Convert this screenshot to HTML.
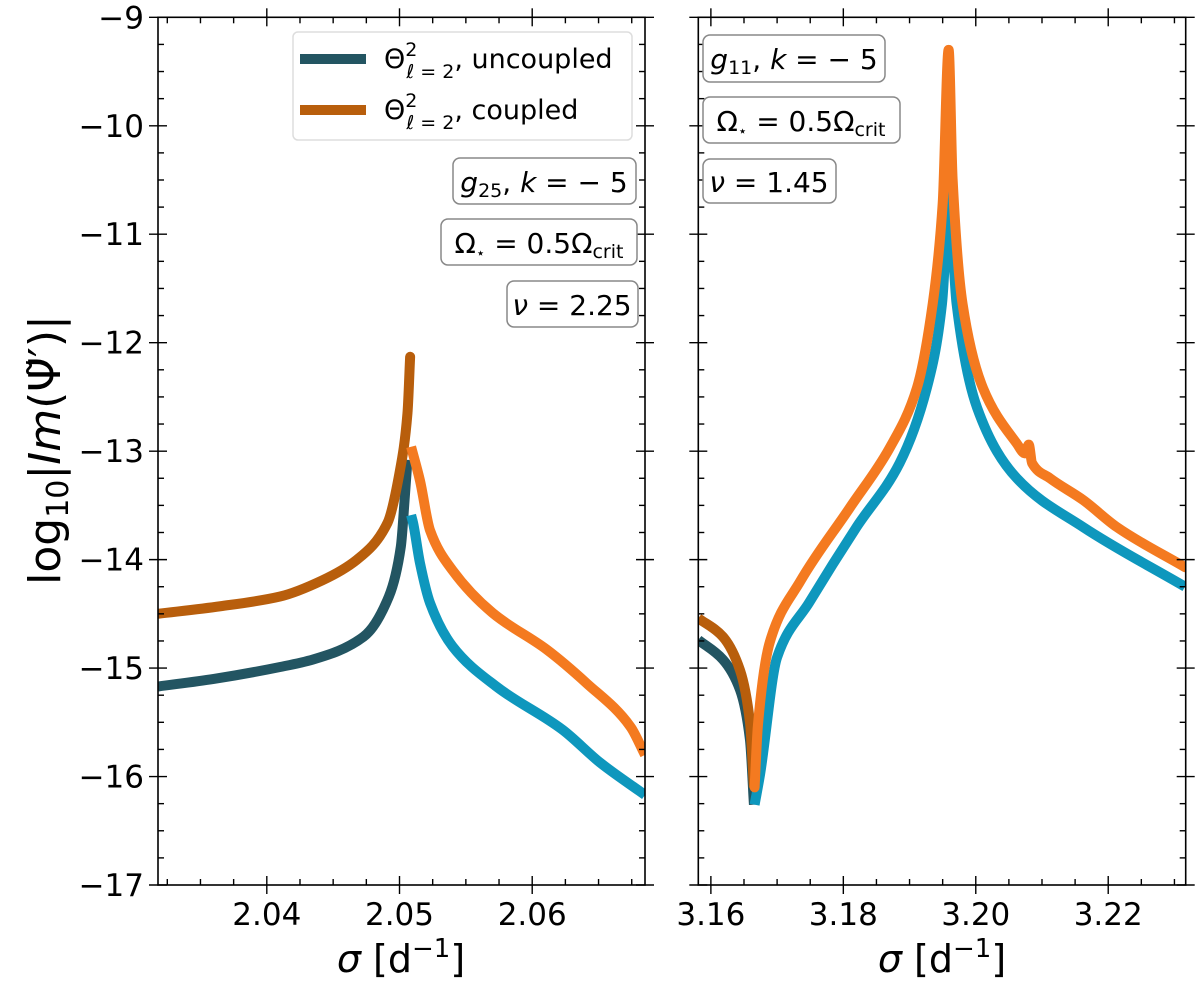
<!DOCTYPE html>
<html><head><meta charset="utf-8">
<style>
html,body{margin:0;padding:0;background:#fff;}
svg{display:block;font-family:"DejaVu Sans","Liberation Sans",sans-serif;}
</style></head>
<body>
<svg id="fig" width="1200" height="986" viewBox="0 0 1200 986" xmlns="http://www.w3.org/2000/svg">
<g id="plots"></g>
<text transform="translate(60,450) rotate(-90)" text-anchor="middle" font-size="44">log<tspan font-size="30" dy="8">10</tspan><tspan dy="-8">|</tspan><tspan font-style="italic">Im</tspan>(Ψ̃′)|</text>
<text x="401" y="972" text-anchor="middle" font-size="38"><tspan font-style="italic">σ</tspan> [d<tspan font-size="26" dy="-15">−1</tspan><tspan dy="15">]</tspan></text>
<text x="942" y="972" text-anchor="middle" font-size="38"><tspan font-style="italic">σ</tspan> [d<tspan font-size="26" dy="-15">−1</tspan><tspan dy="15">]</tspan></text>

<g>
<rect x="293" y="32" width="339" height="108" rx="5" fill="#fff" stroke="#ddd" stroke-width="1.5"/>
<line x1="300" y1="59" x2="366" y2="59" stroke="#235562" stroke-width="10"/>
<line x1="300" y1="110" x2="366" y2="110" stroke="#b85e0c" stroke-width="10"/>
<text x="384" y="68" font-size="27">Θ<tspan font-size="19" dy="-12">2</tspan><tspan font-size="19" dx="-11" dy="22" font-style="italic">ℓ</tspan><tspan font-size="19" dy="0"> = 2</tspan><tspan dy="-10">, uncoupled</tspan></text>
<text x="384" y="119" font-size="27">Θ<tspan font-size="19" dy="-12">2</tspan><tspan font-size="19" dx="-11" dy="22" font-style="italic">ℓ</tspan><tspan font-size="19" dy="0"> = 2</tspan><tspan dy="-10">, coupled</tspan></text>
</g>

<g font-size="28">
<rect x="453" y="158" width="183" height="46" rx="7" fill="#fff" stroke="#888" stroke-width="1.5"/>
<text x="544" y="192" text-anchor="middle"><tspan font-style="italic">g</tspan><tspan font-size="19" dy="5">25</tspan><tspan dy="-5">, </tspan><tspan font-style="italic">k</tspan> = − 5</text>
<rect x="441" y="219" width="196" height="46" rx="7" fill="#fff" stroke="#888" stroke-width="1.5"/>
<text x="539" y="253" text-anchor="middle">Ω<tspan font-size="15" dy="5">⋆</tspan><tspan dy="-5"> = 0.5Ω</tspan><tspan font-size="19" dy="5">crit</tspan></text>
<rect x="507" y="281" width="131" height="46" rx="7" fill="#fff" stroke="#888" stroke-width="1.5"/>
<text x="572" y="315" text-anchor="middle"><tspan font-style="italic">ν</tspan> = 2.25</text>
</g>
<g font-size="28">
<rect x="703" y="35" width="182" height="47" rx="7" fill="#fff" stroke="#888" stroke-width="1.5"/>
<text x="794" y="69" text-anchor="middle"><tspan font-style="italic">g</tspan><tspan font-size="19" dy="5">11</tspan><tspan dy="-5">, </tspan><tspan font-style="italic">k</tspan> = − 5</text>
<rect x="703" y="97" width="197" height="46" rx="7" fill="#fff" stroke="#888" stroke-width="1.5"/>
<text x="801" y="131" text-anchor="middle">Ω<tspan font-size="15" dy="5">⋆</tspan><tspan dy="-5"> = 0.5Ω</tspan><tspan font-size="19" dy="5">crit</tspan></text>
<rect x="703" y="159" width="133" height="44" rx="7" fill="#fff" stroke="#888" stroke-width="1.5"/>
<text x="769" y="192" text-anchor="middle"><tspan font-style="italic">ν</tspan> = 1.45</text>
</g>
</svg>
<script>
// ---- data ----
const yTicks = [-9,-10,-11,-12,-13,-14,-15,-16,-17];
const yTickLabels = ["−9","−10","−11","−12","−13","−14","−15","−16","−17"];
const leftXTicks = [2.04,2.05,2.06];
const leftXTickLabels = ["2.04","2.05","2.06"];
const rightXTicks = [3.16,3.18,3.20,3.22];
const rightXTickLabels = ["3.16","3.18","3.20","3.22"];

// left panel (g25)
const L_uncLeftSigma = [2.0318,2.0360,2.0410,2.0435,2.0473,2.0492,2.0501,2.0504,2.0506];
const L_uncLeftVal   = [-15.17,-15.10,-14.99,-14.92,-14.71,-14.34,-13.88,-13.42,-13.08];
const L_uncRightSigma = [2.05087,2.05102,2.05154,2.0523,2.0540,2.0573,2.0623,2.0651,2.0685];
const L_uncRightVal   = [-13.59,-13.66,-14.03,-14.40,-14.80,-15.17,-15.57,-15.87,-16.17];
const L_cplLeftSigma = [2.0318,2.0365,2.0410,2.0442,2.0468,2.0491,2.0500,2.0506,2.0508];
const L_cplLeftVal   = [-14.50,-14.43,-14.34,-14.19,-14.00,-13.66,-13.20,-12.65,-12.13];
const L_cplRightSigma = [2.05087,2.05154,2.0523,2.0540,2.0570,2.0611,2.0641,2.0674,2.0685];
const L_cplRightVal   = [-12.96,-13.27,-13.73,-14.10,-14.49,-14.83,-15.14,-15.54,-15.80];

// right panel (g11)
const R_uncLeftSigma = [3.1581,3.1618,3.1644,3.1659,3.1665];
const R_uncLeftVal   = [-14.74,-14.92,-15.20,-15.66,-16.26];
const R_uncRightSigma = [3.1666,3.1674,3.1700,3.1749,3.1820,3.1885,3.1926,3.1949,3.1958,3.1959,3.1961,3.1971,3.2002,3.2062,3.2162,3.2316];
const R_uncRightVal   = [-16.26,-15.99,-14.90,-14.39,-13.70,-13.11,-12.42,-11.64,-10.72,-10.63,-10.72,-11.64,-12.60,-13.25,-13.70,-14.25];
const R_cplLeftSigma = [3.1581,3.1618,3.1644,3.1659,3.1665];
const R_cplLeftVal   = [-14.54,-14.71,-15.02,-15.50,-16.10];
const R_cplRightSigma = [3.1666,3.1671,3.1689,3.1735,3.1810,3.1870,3.1911,3.1935,3.1950,3.1959,3.1965,3.1980,3.2011,3.2062,3.2074,3.2080,3.2085,3.2112,3.2162,3.2213,3.2316];
const R_cplRightVal   = [-16.10,-15.53,-14.76,-14.20,-13.52,-12.97,-12.42,-11.64,-10.72,-9.30,-10.49,-11.64,-12.42,-12.93,-13.02,-12.94,-13.11,-13.25,-13.45,-13.70,-14.07];

// ---- drawing ----
const NS = "http://www.w3.org/2000/svg";
const root = document.getElementById('plots');
const yTop = 17.3, yBot = 885, yMax = -9, yMin = -17;
function yScale(v){ return yTop + (yMax - v) / (yMax - yMin) * (yBot - yTop); }
function mk(tag, attrs, parent){
  const e = document.createElementNS(NS, tag);
  for (const k in attrs) e.setAttribute(k, attrs[k]);
  parent.appendChild(e); return e;
}
// monotone cubic path through pixel points
function smoothPath(px, py){
  const n = px.length;
  if (n < 3) return px.map((x,i)=>(i?'L':'M')+x.toFixed(1)+' '+py[i].toFixed(1)).join(' ');
  const d = [], m = new Array(n);
  for (let i = 0; i < n-1; i++) d.push((py[i+1]-py[i])/Math.max(px[i+1]-px[i],1e-6));
  m[0] = d[0]; m[n-1] = d[n-2];
  for (let i = 1; i < n-1; i++){
    if (d[i-1]*d[i] <= 0) m[i] = 0;
    else { const h0 = px[i]-px[i-1], h1 = px[i+1]-px[i];
      const w1 = 2*h1+h0, w2 = h1+2*h0; m[i] = (w1+w2)/(w1/d[i-1]+w2/d[i]); }
  }
  let s = 'M'+px[0].toFixed(1)+' '+py[0].toFixed(1);
  for (let i = 0; i < n-1; i++){
    const h = (px[i+1]-px[i])/3;
    s += ' C'+(px[i]+h).toFixed(2)+' '+(py[i]+m[i]*h).toFixed(2)+' '+(px[i+1]-h).toFixed(2)+' '+(py[i+1]-m[i+1]*h).toFixed(2)+' '+px[i+1].toFixed(2)+' '+py[i+1].toFixed(2);
  }
  return s;
}
const C_UNC_L = "#235562", C_UNC_R = "#0e97bd", C_CPL_L = "#b85e0c", C_CPL_R = "#f47a20";

function panel(name, x0, x1, sMin, sMax, xt, xtl, minorStep, showY, series){
  const g = mk('g', {}, root);
  
  
  const xs = s => x0 + (s - sMin) / (sMax - sMin) * (x1 - x0);
  const clip = 'clip-' + name;
  const cp = mk('clipPath', {id: clip}, g);
  mk('rect', {x: x0, y: yTop, width: x1 - x0, height: yBot - yTop}, cp);
  const lines = mk('g', {'clip-path': 'url(#' + clip + ')'}, g);
  series.forEach(sr => {
    const d = smoothPath(sr.s.map(xs), sr.v.map(yScale));
    const p = mk('path', {d: d, fill: 'none', stroke: sr.c, 'stroke-width': 10, 'stroke-linejoin': 'round', 'stroke-linecap': sr.cap || 'butt'}, lines);
    
    
  });
  const fr = mk('rect', {x: x0, y: yTop, width: x1 - x0, height: yBot - yTop, fill: 'none', stroke: '#000', 'stroke-width': 1.6}, g);
  
  
  const tk = mk('g', {stroke: '#000', 'stroke-width': 1.4}, g);
  const first = Math.ceil(sMin / minorStep - 1e-6);
  for (let k = first; k * minorStep <= sMax + 1e-9; k++){
    const s = k * minorStep, x = xs(s);
    const major = xt.some(t => Math.abs(t - s) < minorStep / 10);
    if (major){
      mk('line', {x1: x, x2: x, y1: yBot - 9, y2: yBot + 9}, tk);
      mk('line', {x1: x, x2: x, y1: yTop - 9, y2: yTop + 9}, tk);
    } else {
      mk('line', {x1: x, x2: x, y1: yBot - 6, y2: yBot}, tk);
      mk('line', {x1: x, x2: x, y1: yTop, y2: yTop + 6}, tk);
    }
  }
  xt.forEach((t, i) => {
    const tx = mk('text', {x: xs(t), y: yBot + 40, 'text-anchor': 'middle', 'font-size': 31}, g);
    tx.textContent = xtl[i];
    
    
  });
  for (let v = yMax; v >= yMin - 1e-9; v -= 0.25){
    const y = yScale(v);
    const major = Math.abs(v - Math.round(v)) < 1e-6;
    if (major){
      mk('line', {x1: x0 - 9, x2: x0 + 9, y1: y, y2: y}, tk);
      mk('line', {x1: x1 - 9, x2: x1 + 9, y1: y, y2: y}, tk);
    } else {
      mk('line', {x1: x0, x2: x0 + 6, y1: y, y2: y}, tk);
      mk('line', {x1: x1 - 6, x2: x1, y1: y, y2: y}, tk);
    }
  }
  if (showY){
    yTicks.forEach((t, i) => {
      const ty = mk('text', {x: x0 - 14, y: yScale(t) + 11, 'text-anchor': 'end', 'font-size': 31}, g);
      ty.textContent = yTickLabels[i];
      
      
    });
  }
}

panel('left-panel', 158, 645, 2.0318, 2.0685, leftXTicks, leftXTickLabels, 0.0025, true, [
  {n: 'uncoupled-below-resonance', s: L_uncLeftSigma, v: L_uncLeftVal, c: C_UNC_L},
  {n: 'uncoupled-above-resonance', s: L_uncRightSigma, v: L_uncRightVal, c: C_UNC_R},
  {n: 'coupled-below-resonance', s: L_cplLeftSigma, v: L_cplLeftVal, c: C_CPL_L, cap: 'round'},
  {n: 'coupled-above-resonance', s: L_cplRightSigma, v: L_cplRightVal, c: C_CPL_R}
]);
panel('right-panel', 698.3, 1185.7, 3.1581, 3.2317, rightXTicks, rightXTickLabels, 0.005, false, [
  {n: 'uncoupled-below-resonance', s: R_uncLeftSigma, v: R_uncLeftVal, c: C_UNC_L},
  {n: 'uncoupled-above-resonance', s: R_uncRightSigma, v: R_uncRightVal, c: C_UNC_R},
  {n: 'coupled-below-resonance', s: R_cplLeftSigma, v: R_cplLeftVal, c: C_CPL_L},
  {n: 'coupled-above-resonance', s: R_cplRightSigma, v: R_cplRightVal, c: C_CPL_R, cap: 'round'}
]);
</script>
</body></html>
